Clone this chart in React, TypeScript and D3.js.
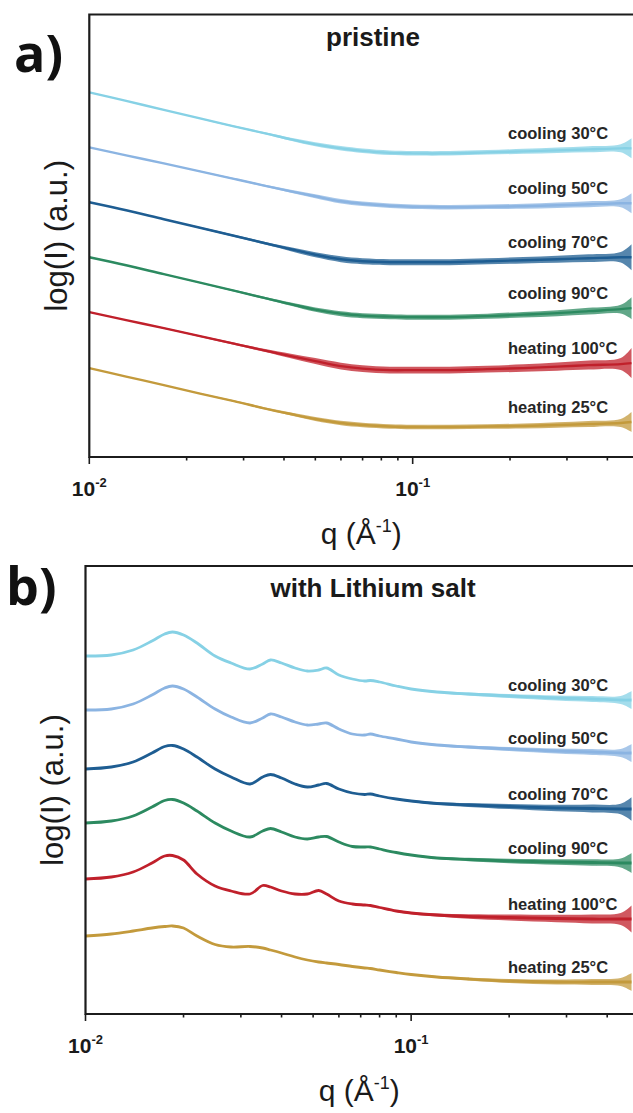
import React from 'react';
import * as d3 from 'd3';

const W = 633;
const H = 1113;
const SANS = '"Liberation Sans", Arial, sans-serif';

// ---- panel a) pristine ----
const Q_PRISTINE = [0.010, 0.013, 0.017, 0.022, 0.028, 0.035, 0.042, 0.05, 0.06, 0.07, 0.085, 0.10, 0.13, 0.17, 0.22, 0.28, 0.35, 0.44, 0.475];
const NOISE_PRISTINE = [0.005, 0.005, 0.008, 0.01, 0.015, 0.02, 0.03, 0.04, 0.045, 0.045, 0.045, 0.045, 0.045, 0.045, 0.05, 0.055, 0.06, 0.08, 0.2];
const PRISTINE_C30 = [7.30, 7.13, 6.95, 6.78, 6.62, 6.48, 6.36, 6.26, 6.18, 6.13, 6.09, 6.08, 6.08, 6.10, 6.12, 6.14, 6.16, 6.18, 6.18];
const PRISTINE_C50 = [6.20, 6.04, 5.88, 5.72, 5.57, 5.43, 5.32, 5.22, 5.12, 5.07, 5.03, 5.01, 5.00, 5.01, 5.02, 5.04, 5.06, 5.08, 5.08];
const PRISTINE_C70 = [5.10, 4.94, 4.76, 4.59, 4.43, 4.28, 4.16, 4.05, 3.96, 3.92, 3.90, 3.90, 3.90, 3.92, 3.94, 3.96, 3.98, 4.00, 4.00];
const PRISTINE_C90 = [4.00, 3.84, 3.66, 3.49, 3.33, 3.18, 3.06, 2.95, 2.87, 2.83, 2.81, 2.80, 2.80, 2.82, 2.85, 2.88, 2.92, 2.96, 2.98];
const PRISTINE_H100 = [2.90, 2.74, 2.58, 2.42, 2.27, 2.13, 2.02, 1.92, 1.82, 1.77, 1.74, 1.74, 1.74, 1.76, 1.78, 1.81, 1.84, 1.86, 1.88];
const PRISTINE_H25 = [1.78, 1.61, 1.44, 1.27, 1.12, 0.97, 0.86, 0.76, 0.68, 0.64, 0.61, 0.60, 0.60, 0.61, 0.62, 0.64, 0.66, 0.68, 0.70];

// ---- panel b) with Lithium salt ----
const Q_LI = [0.010, 0.012, 0.014, 0.016, 0.0175, 0.0185, 0.020, 0.022, 0.025, 0.028, 0.032, 0.035, 0.037, 0.040, 0.044, 0.048, 0.052, 0.055, 0.060, 0.066, 0.072, 0.075, 0.080, 0.09, 0.10, 0.12, 0.15, 0.20, 0.28, 0.36, 0.44, 0.475];
const NOISE_LI = [0.006, 0.006, 0.006, 0.006, 0.006, 0.006, 0.006, 0.006, 0.006, 0.006, 0.006, 0.006, 0.006, 0.006, 0.006, 0.006, 0.006, 0.006, 0.008, 0.008, 0.008, 0.008, 0.008, 0.012, 0.015, 0.02, 0.03, 0.04, 0.05, 0.06, 0.08, 0.18];
const LI_C30 = [7.16, 7.18, 7.28, 7.46, 7.60, 7.64, 7.58, 7.42, 7.16, 7.02, 6.90, 7.00, 7.08, 7.02, 6.92, 6.86, 6.88, 6.92, 6.78, 6.70, 6.66, 6.67, 6.64, 6.56, 6.50, 6.44, 6.40, 6.36, 6.32, 6.30, 6.28, 6.28];
const LI_C50 = [6.08, 6.10, 6.20, 6.38, 6.52, 6.56, 6.50, 6.34, 6.10, 5.94, 5.82, 5.92, 6.00, 5.94, 5.84, 5.78, 5.80, 5.82, 5.70, 5.60, 5.58, 5.60, 5.56, 5.50, 5.44, 5.38, 5.34, 5.30, 5.26, 5.24, 5.22, 5.22];
const LI_C70 = [4.90, 4.94, 5.04, 5.22, 5.35, 5.37, 5.30, 5.14, 4.90, 4.74, 4.60, 4.74, 4.79, 4.72, 4.60, 4.54, 4.58, 4.61, 4.50, 4.42, 4.39, 4.40, 4.36, 4.30, 4.26, 4.21, 4.18, 4.15, 4.12, 4.11, 4.10, 4.10];
const LI_C90 = [3.82, 3.86, 3.96, 4.14, 4.27, 4.29, 4.22, 4.06, 3.82, 3.66, 3.54, 3.66, 3.71, 3.64, 3.54, 3.50, 3.54, 3.55, 3.44, 3.35, 3.34, 3.34, 3.30, 3.23, 3.18, 3.12, 3.09, 3.06, 3.04, 3.03, 3.02, 3.02];
const LI_H100 = [2.70, 2.74, 2.84, 3.02, 3.16, 3.17, 3.08, 2.80, 2.56, 2.46, 2.40, 2.57, 2.54, 2.46, 2.40, 2.40, 2.47, 2.40, 2.26, 2.20, 2.18, 2.17, 2.13, 2.06, 2.02, 1.98, 1.95, 1.93, 1.91, 1.90, 1.90, 1.90];
const LI_H25 = [1.56, 1.60, 1.66, 1.72, 1.75, 1.76, 1.72, 1.56, 1.39, 1.34, 1.35, 1.32, 1.28, 1.22, 1.14, 1.08, 1.04, 1.02, 0.99, 0.95, 0.92, 0.91, 0.88, 0.83, 0.79, 0.74, 0.70, 0.66, 0.64, 0.64, 0.64, 0.64];

const LABELS = ['cooling 30°C', 'cooling 50°C', 'cooling 70°C', 'cooling 90°C', 'heating 100°C', 'heating 25°C'];
const COLORS = ['#86d1e5', '#8bb4e2', '#1e5d92', '#2c8a60', '#c0202b', '#c39a3c'];
const NOISE_GAIN = [1, 1, 1.3, 1.1, 1.5, 1];
const X_DOMAIN: [number, number] = [0.01, 0.475];

type PanelProps = {
  letter: string;
  title: string;
  q: number[];
  noise: number[];
  series: number[][];
  left: number;
  top: number;
  bottom: number;
  yMax: number;
  letterX: number;
  letterY: number;
  yLabelX: number;
  lineWidth: number;
};

function Panel({ letter, title, q, noise, series, left, top, bottom, yMax, letterX, letterY, yLabelX, lineWidth }: PanelProps) {
  const right = W + 1;
  const x = d3.scaleLog().domain(X_DOMAIN).range([left, W - 1.5]);
  const y = d3.scaleLinear().domain([0, yMax]).range([bottom, top]);
  const ticks = x.ticks();
  const isMajor = (t: number) => Math.abs(Math.log10(t) - Math.round(Math.log10(t))) < 1e-6;

  const line = d3.line<number>()
    .x((_, i) => x(q[i]))
    .y(d => y(d))
    .curve(d3.curveCatmullRom.alpha(0.5));

  return (
    <g>
      <text x={letterX} y={letterY} fontFamily='"Open Sans", sans-serif' fontWeight={700} fontSize={52} fill="#111">{letter}</text>
      <text x={373} y={top + 31} textAnchor="middle" fontFamily={SANS} fontWeight={700} fontSize={26} fill="#1a1a1a">{title}</text>

      {series.map((s, k) => {
        const area = d3.area<number>()
          .x((_, i) => x(q[i]))
          .y0((d, i) => y(d - noise[i] * NOISE_GAIN[k]))
          .y1((d, i) => y(d + noise[i] * NOISE_GAIN[k]))
          .curve(d3.curveCatmullRom.alpha(0.5));
        return (
          <g key={k}>
            <path d={area(s) || ''} fill={COLORS[k]} opacity={0.75} />
            <path d={line(s) || ''} fill="none" stroke={COLORS[k]} strokeWidth={lineWidth} strokeLinejoin="round" />
            <text x={508} y={y(s[s.length - 1]) - 9} fontFamily={SANS} fontWeight={700} fontSize={16.5} fill="#262626">{LABELS[k]}</text>
          </g>
        );
      })}

      <path d={`M${right},${top}H${left}V${bottom}H${right}`} fill="none" stroke="#1c1c1c" strokeWidth={2.2} />
      {ticks.map(t => (
        <line key={t} x1={x(t)} x2={x(t)} y1={bottom} y2={bottom + (isMajor(t) ? 7 : 3.5)} stroke="#1c1c1c" strokeWidth={1.6} />
      ))}
      {ticks.filter(isMajor).map(t => (
        <text key={'l' + t} x={x(t)} y={bottom + 39} textAnchor="middle" fontFamily={SANS} fontWeight={700} fontSize={21} fill="#1a1a1a">
          10<tspan fontSize={13} dy={-9}>{'-' + Math.round(-Math.log10(t))}</tspan>
        </text>
      ))}
      <text x={(left + W) / 2} y={bottom + 87} textAnchor="middle" fontFamily={SANS} fontSize={30} fill="#1a1a1a">
        q (Å<tspan fontSize={18} dy={-12}>-1</tspan><tspan dy={12}>)</tspan>
      </text>
      <text transform={`translate(${yLabelX},${(top + bottom) / 2}) rotate(-90)`} textAnchor="middle" fontFamily={SANS} fontSize={31} fill="#1a1a1a">
        log(I) (a.u.)
      </text>
    </g>
  );
}

export default function App() {
  return (
    <div style={{ position: 'absolute', left: 0, top: 0, width: W, height: H, background: '#fff' }}>
      <svg width={W} height={H} style={{ display: 'block' }}>
        <Panel
          letter="a)" title="pristine" q={Q_PRISTINE} noise={NOISE_PRISTINE}
          series={[PRISTINE_C30, PRISTINE_C50, PRISTINE_C70, PRISTINE_C90, PRISTINE_H100, PRISTINE_H25]}
          left={89.3} top={14.5} bottom={457} yMax={8.86}
          letterX={14} letterY={72} yLabelX={67} lineWidth={2.4}
        />
        <Panel
          letter="b)" title="with Lithium salt" q={Q_LI} noise={NOISE_LI}
          series={[LI_C30, LI_C50, LI_C70, LI_C90, LI_H100, LI_H25]}
          left={85.5} top={566} bottom={1014} yMax={8.96}
          letterX={6} letterY={605} yLabelX={63} lineWidth={2.8}
        />
      </svg>
    </div>
  );
}
